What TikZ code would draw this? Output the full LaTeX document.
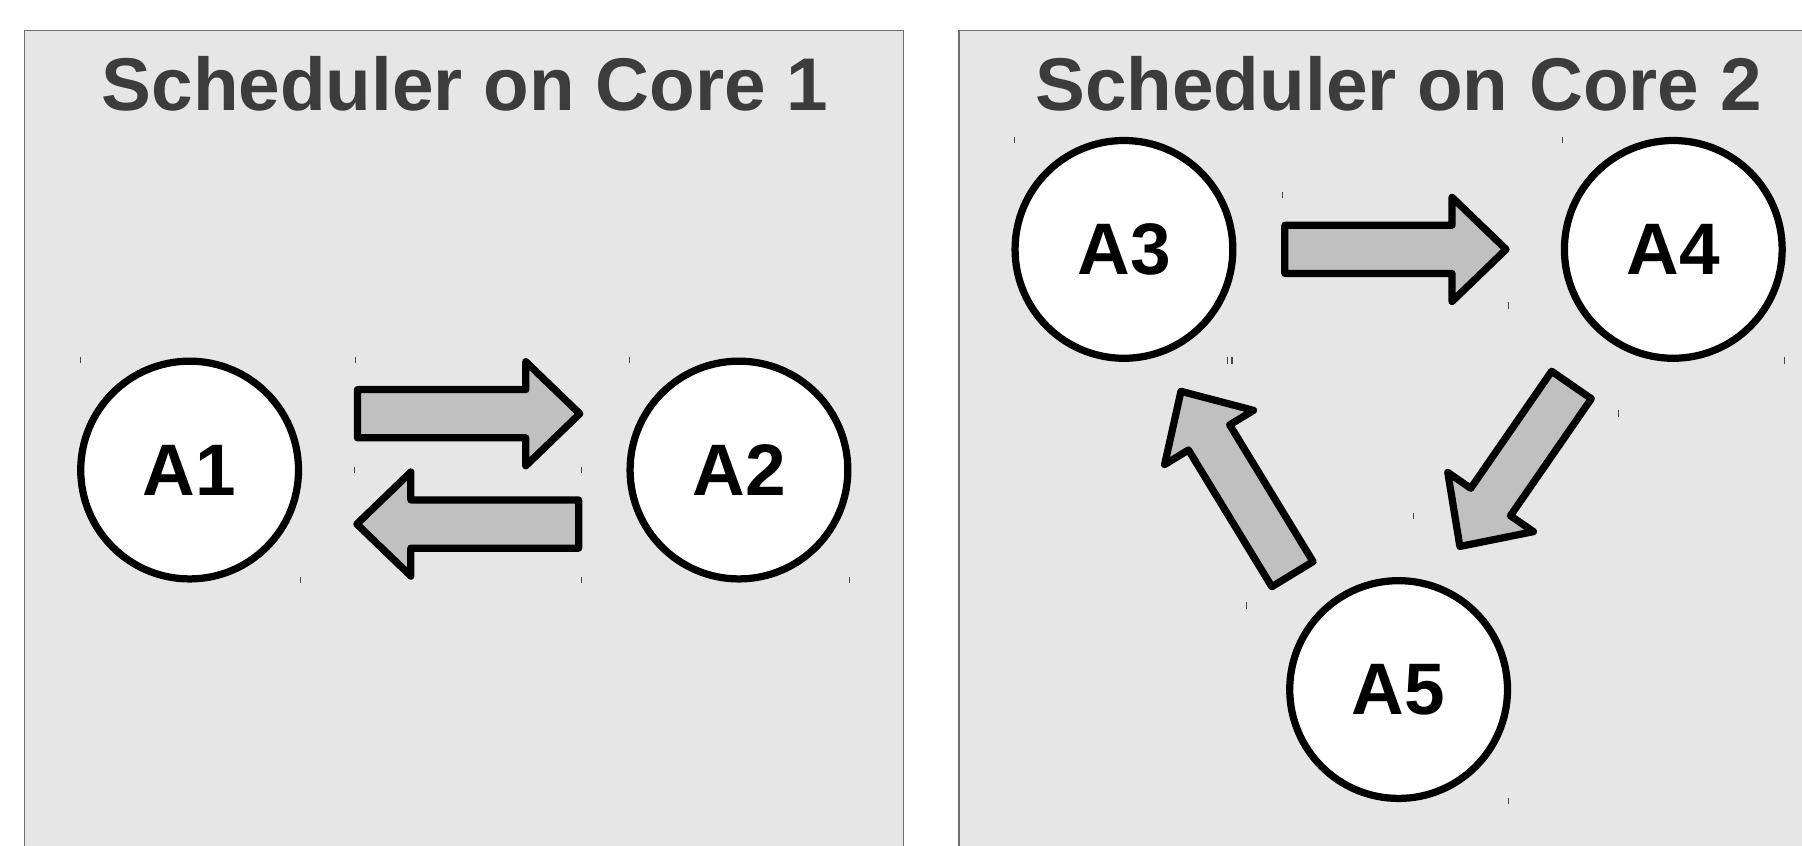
\documentclass[tikz,border=0pt]{standalone}
\usepackage{fontspec}
\setmainfont{Liberation Sans}
\usetikzlibrary{calc}

\definecolor{panelfill}{RGB}{230,230,230}
\definecolor{panelline}{RGB}{110,110,110}
\definecolor{titlegray}{RGB}{60,60,60}
\definecolor{arrowfill}{RGB}{192,192,192}
\definecolor{tickgray}{RGB}{70,70,70}

\tikzset{
  panel/.style={fill=panelfill, draw=panelline, line width=1.2pt},
  paneltitle/.style={anchor=base, text=titlegray, inner sep=0pt,
    font=\fontsize{65}{78}\selectfont\bfseries},
  task/.style={circle, draw=black, fill=white, line width=6.3pt,
    minimum size=189.5pt, inner sep=0pt,
    font=\fontsize{63.5}{70}\selectfont\bfseries},
  blockarrow/.style={draw=black, fill=arrowfill, line width=6.3pt, line join=round},
  tickmark/.style={draw=tickgray, line width=0.9pt},
}

% block arrow from a tail coordinate (#1) to a tip coordinate (#2)
\newcommand\drawblockarrow[2]{%
  \coordinate (ba-h) at ($(#2)!47pt!(#1)$);
  \path[blockarrow]
    ($(#1)!21pt!90:(#2)$) -- ($(ba-h)!21pt!90:(#2)$)
    -- ($(ba-h)!45.3pt!90:(#2)$) -- (#2)
    -- ($(ba-h)!45.3pt!-90:(#2)$) -- ($(ba-h)!21pt!-90:(#2)$)
    -- ($(#1)!21pt!-90:(#2)$) -- cycle;
}

\begin{document}
\begin{tikzpicture}[x=1pt, y=-1pt]
  \useasboundingbox (0,0) rectangle (1568,736);
  \clip (0,0) rectangle (1568,736);

  % panels
  \path[panel] (21.5,26.3) rectangle (786.3,760);
  \path[panel] (834.6,26.3) rectangle (1600,760);

  \node[paneltitle] (title1) at (404.5,96) {Scheduler on Core 1};
  \node[paneltitle] (title2) at (1217,96) {Scheduler on Core 2};

  % tasks
  \node[task] (A1) at (165,409) {A1};
  \node[task] (A2) at (643,409) {A2};
  \node[task] (A3) at (978,217) {A3};
  \node[task] (A4) at (1456,217) {A4};
  \node[task] (A5) at (1217,600) {A5};

  % arrow ends
  \coordinate (a12t) at (311,360);     \coordinate (a12h) at (504.5,360);
  \coordinate (a21t) at (503.5,456);   \coordinate (a21h) at (310.5,456);
  \coordinate (a34t) at (1118,217);    \coordinate (a34h) at (1310.5,217);
  \coordinate (a45t) at (1367.4,335);  \coordinate (a45h) at (1270.3,475.5);
  \coordinate (a53t) at (1124.6,499.6);\coordinate (a53h) at (1027.6,340.5);

  \drawblockarrow{a12t}{a12h}
  \drawblockarrow{a21t}{a21h}
  \drawblockarrow{a34t}{a34h}
  \drawblockarrow{a45t}{a45h}
  \drawblockarrow{a53t}{a53h}

  % small corner marks
  \foreach \x/\y in {70.2/310.5, 309/310.5, 547.5/310.5, 308.5/406.5, 506/406.5,
                     261.8/502, 505.6/502, 739.2/502,
                     882.5/119, 1360/119, 1116/167, 1313/263, 1067.7/311,
                     1072/311, 1552.4/311, 1408.5/357, 1230/446.5, 1084.6/524,
                     1313/694}
    \draw[tickmark] (\x,\y) -- ++(0,5.5);
\end{tikzpicture}
\end{document}
